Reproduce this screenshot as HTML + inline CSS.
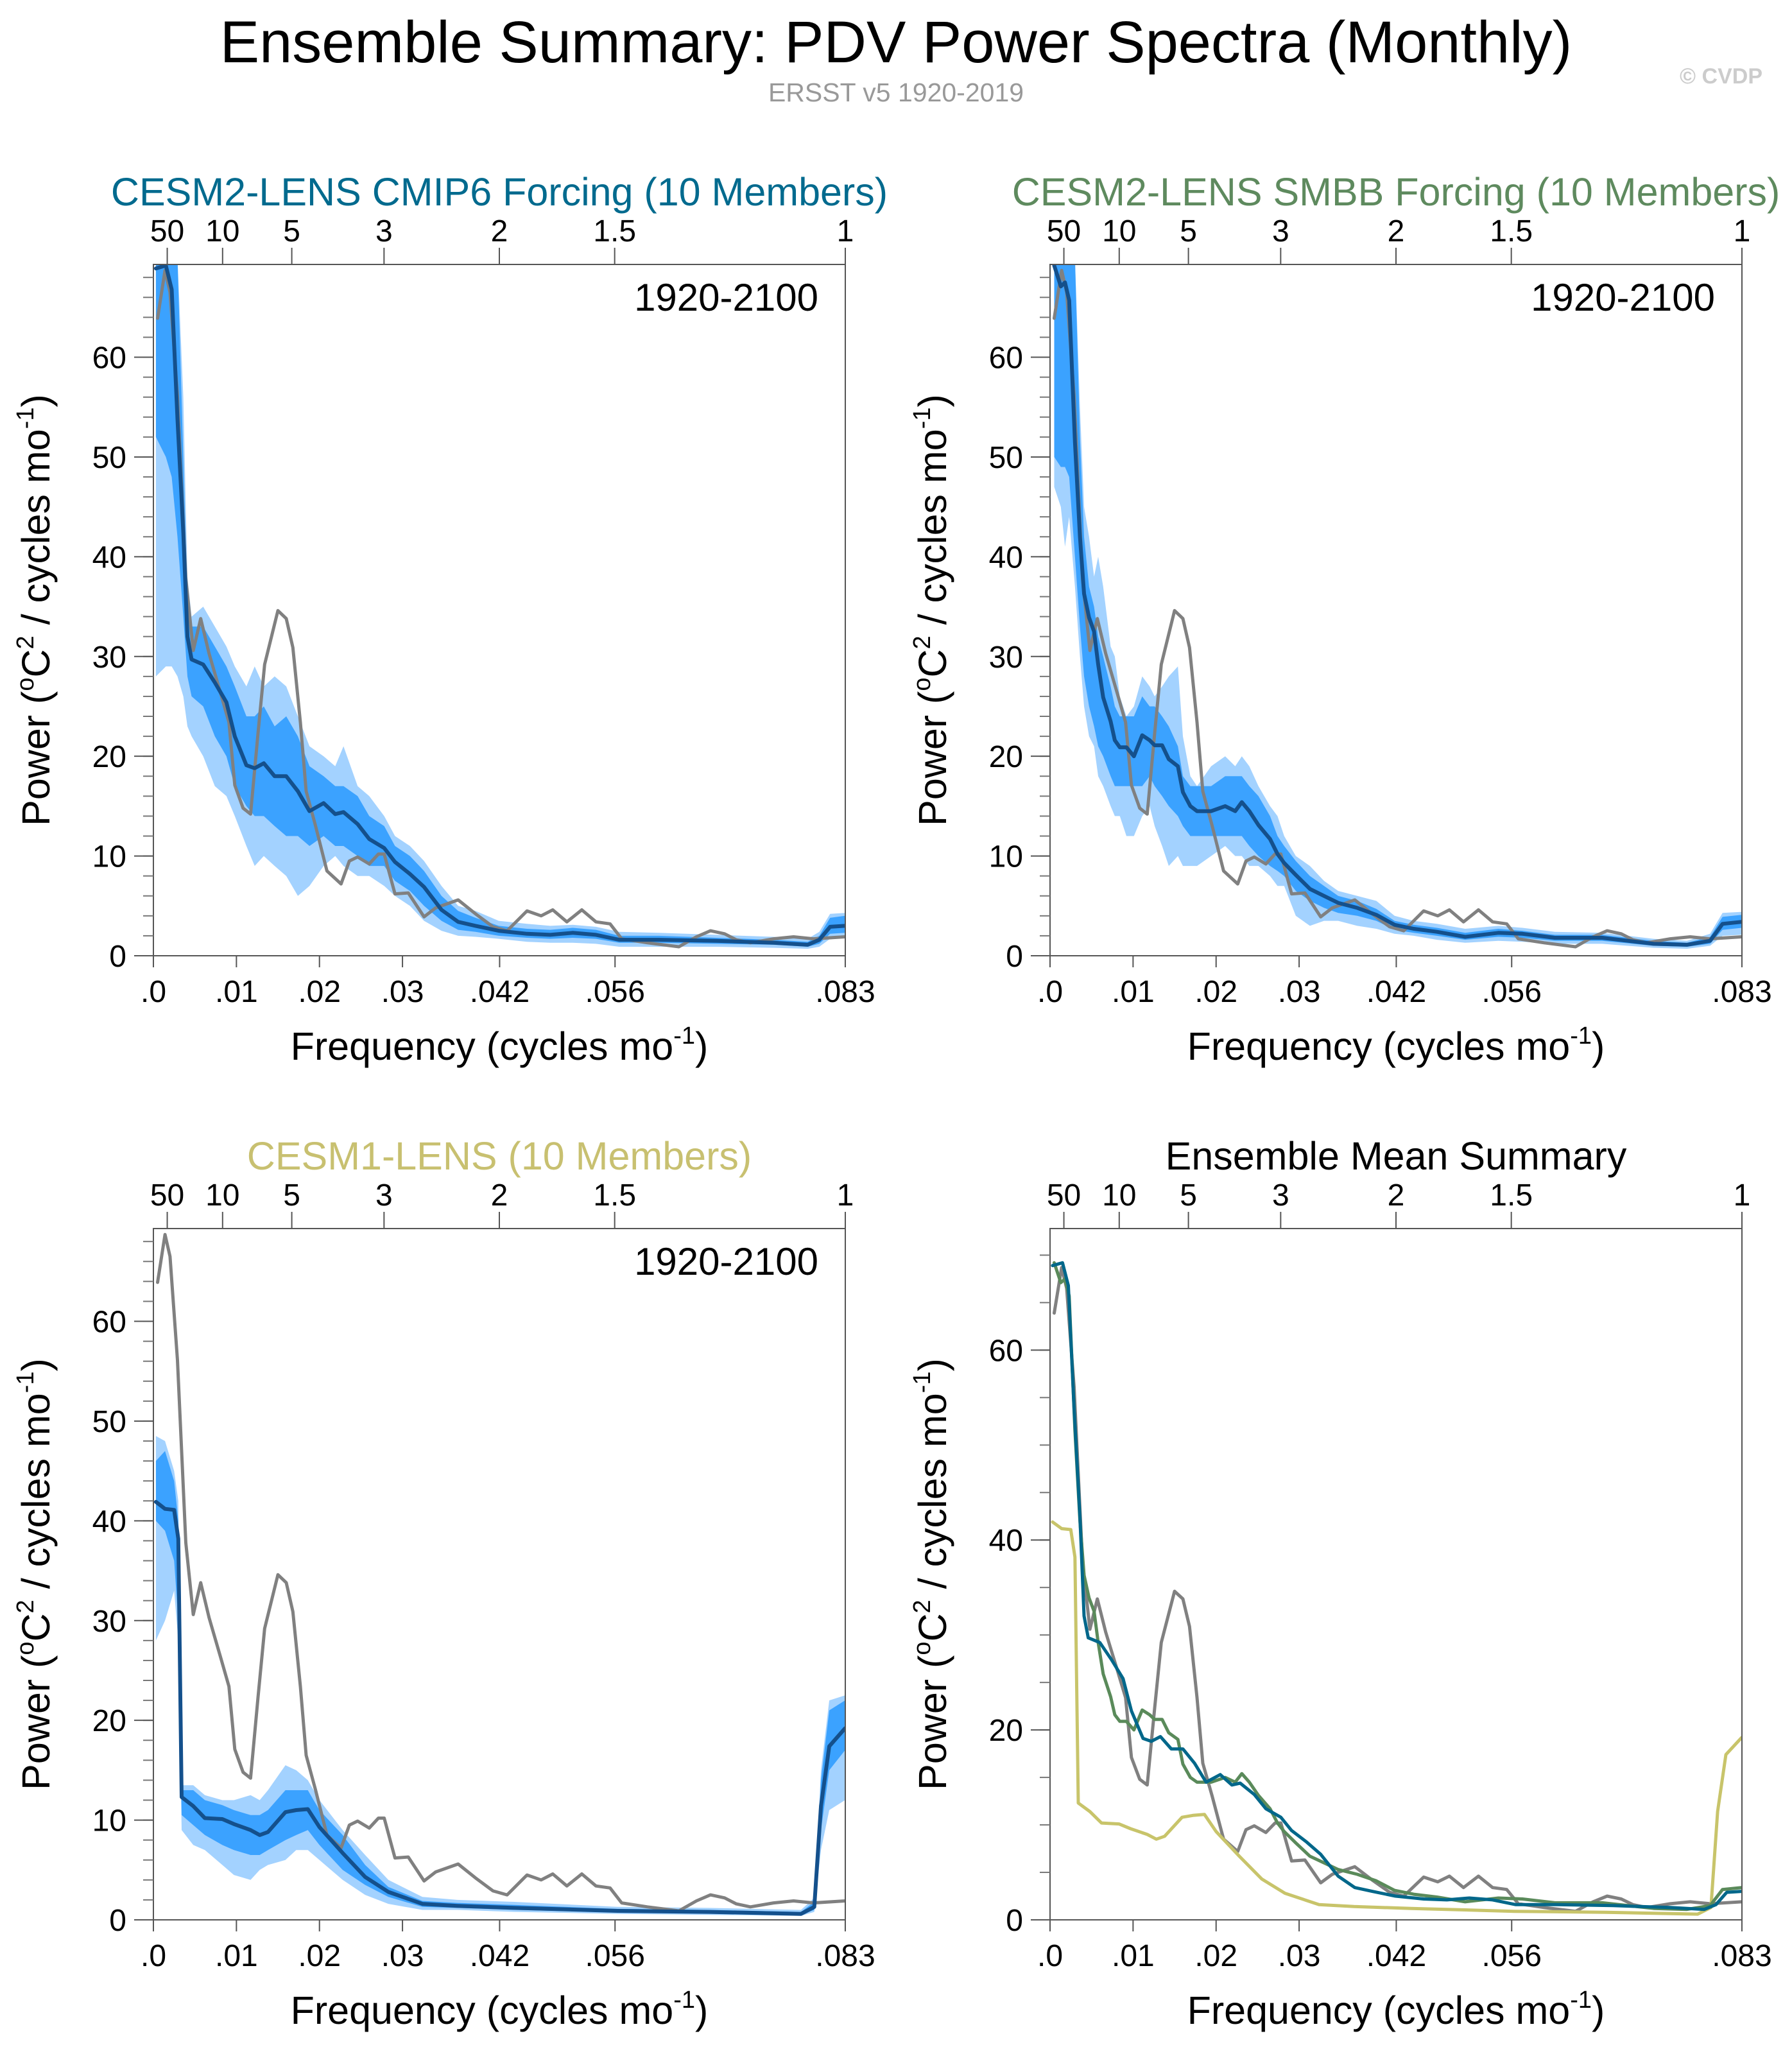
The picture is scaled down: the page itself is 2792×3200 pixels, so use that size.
<!DOCTYPE html>
<html><head><meta charset="utf-8">
<style>
html,body{margin:0;padding:0;background:#fff;}
svg{display:block;font-family:"Liberation Sans",Arial,sans-serif;}
</style></head>
<body>
<svg id="chart" width="2792" height="3200" viewBox="0 0 2792 3200" xmlns="http://www.w3.org/2000/svg">
<rect width="2792" height="3200" fill="#fff"/>
<text x="1396" y="97" font-size="92" text-anchor="middle" fill="#000">Ensemble Summary: PDV Power Spectra (Monthly)</text>
<text x="1396" y="158" font-size="41" text-anchor="middle" fill="#999">ERSST v5 1920-2019</text>
<text x="2746" y="130" font-size="34" text-anchor="end" fill="#ccc" font-weight="bold">© CVDP</text>
<g id="root"></g>
</svg>
<script>
// ---------- DATA ----------
const obsFreq = [.0005,.0014,.002,.0029,.0039,.0048,.0057,.0067,.0081,.0091,.0098,.0108,.0117,.0126,.0134,.015,.016,.0168,.0177,.0184,.0195,.0209,.0226,.0236,.0246,.026,.0271,.0278,.0291,.0307,.0326,.034,.0367,.0388,.0409,.0426,.045,.0467,.0481,.0498,.0516,.0533,.055,.0564,.0595,.0633,.0654,.0671,.0688,.0702,.0719,.0747,.0771,.0795,.0833];
const obsPower = [63.9,68.7,66.5,56.1,37.8,30.6,33.8,30.3,26.3,23.4,17.1,14.8,14.2,22.3,29.2,34.6,33.8,30.9,23.4,16.5,13.1,8.5,7.2,9.5,9.9,9.2,10.2,10.2,6.2,6.3,3.9,4.8,5.6,4.2,2.9,2.5,4.5,4.0,4.6,3.4,4.6,3.4,3.2,1.7,1.3,0.9,1.9,2.5,2.2,1.6,1.3,1.7,1.9,1.7,1.9];

const cmip6Freq = [.0003,.0015,.0022,.0029,.0036,.0041,.0046,.006,.0074,.0088,.0098,.0112,.0122,.0133,.0146,.016,.0174,.0188,.0205,.0219,.0229,.0246,.026,.0278,.0291,.0309,.0326,.0347,.0367,.0388,.0416,.045,.0478,.0505,.0533,.0561,.0609,.0678,.0747,.0788,.0802,.0815,.0833];
const cmip6Mean = [68.9,69.2,66.8,53.8,42.4,32.0,29.7,29.2,27.4,25.4,22.0,19.1,18.8,19.3,18.0,18.0,16.5,14.5,15.3,14.2,14.4,13.2,11.7,10.8,9.4,8.2,6.9,4.6,3.4,3.0,2.5,2.2,2.1,2.3,2.1,1.6,1.6,1.5,1.3,1.1,1.6,2.9,3.0];
const cmip6InnerLo = [52,50,48,42,34,28,26,25,22,20,17,15,14,14,13,12,12,11,12,11,11,10,9,9,7.5,6.5,5,3.5,2.6,2.4,2.0,1.8,1.7,1.8,1.7,1.3,1.3,1.2,1.1,0.9,1.2,2.2,2.3];
const cmip6InnerHi = [70,70,70,70,50,36,33,33,31,29,27,24,24,25,23,24,22,19,18,17,17,16,14,13,11,10,8.5,6,4.5,3.8,3.0,2.7,2.6,2.8,2.6,2.0,2.0,1.8,1.6,1.4,2.0,3.8,4.0];
const cmip6OuterLo = [28,29,29,28,26,23,22,20,17,16,14,11,9,10,9,8,6,7,9,10,9,8,8,7,6,5,3.5,2.5,2,1.9,1.7,1.4,1.3,1.3,1.2,0.9,0.9,0.9,0.8,0.7,0.9,1.7,1.8];
const cmip6OuterHi = [70,70,70,70,56,38,34,35,33,31,29,27,29,27,28,27,24,21,20,19,21,17,16,14,12,11,9.5,7,5,4.5,3.5,3.2,3.0,3.1,2.9,2.4,2.3,2.1,1.9,1.7,2.4,4.2,4.3];

const smbbFreq = [.0005,.0013,.0018,.0023,.003,.0036,.0041,.0047,.0053,.0058,.0064,.0073,.0078,.0084,.0092,.0101,.0111,.012,.0126,.0135,.0143,.0154,.016,.0169,.0177,.0194,.0211,.0223,.0231,.024,.0251,.0265,.0274,.0282,.0296,.0313,.033,.0347,.037,.0393,.0415,.0438,.0466,.05,.054,.0569,.0608,.0665,.0727,.0767,.0795,.081,.0833];
const smbbMean = [69.2,67.1,67.5,65.7,51.5,42,36.3,33.9,32.5,29.2,25.9,23.5,21.6,20.9,20.9,20,22.1,21.6,21.1,21.1,19.7,19,16.4,15,14.5,14.5,15,14.5,15.4,14.5,13.1,11.7,10.2,9.3,8.1,6.7,6,5.3,4.8,4.1,3.1,2.7,2.4,1.9,2.3,2.2,1.8,1.8,1.2,1.1,1.5,3.2,3.4];
const smbbInnerLo = [50,49,49,48,40,33,28,25,23,21,20,18,17,17,17,17,17,18,17,16,15,14,13,12,12,12,12,12,12,11,10,9,8.5,8,6.5,5.5,4.8,4.3,4,3.5,2.6,2.3,2,1.6,1.9,1.8,1.5,1.5,1,0.9,1.2,2.6,2.8];
const smbbInnerHi = [70,70,70,70,70,52,42,37,35,32,30,27,25,24,24,24,26,25,25,24,23,21,18,17,17,17,18,18,18,17,16,14,12,11,9.5,8,7,6,5.5,4.7,3.5,3.1,2.8,2.3,2.7,2.5,2.1,2.1,1.5,1.3,1.9,3.9,4.1];
const smbbOuterLo = [47,45,41,44,37,30,25,22,21,18,17,15,14,14,12,12,14,15,13,11,9,10,9,9,9,10,11,10,10,9,9,8,7,7,4,3,3.5,3.5,3,2.7,2.2,2,1.6,1.3,1.5,1.4,1.2,1.2,0.8,0.7,1,2,2.1];
const smbbOuterHi = [70,70,70,70,70,55,45,42,38,40,37,31,30,26,24,25,28,27,26,27,28,29,22,18,17,19,20,19,20,19,17,15,14,12,10,9,7.5,6.5,6,5.5,4,3.5,3.2,2.7,3,2.8,2.4,2.3,1.7,1.5,2.2,4.3,4.4];

const lens1Freq = [.0003,.0014,.0025,.003,.0034,.0048,.0062,.0083,.0097,.0117,.0128,.0138,.0159,.0172,.0186,.02,.0228,.0255,.0283,.0324,.0366,.0435,.0559,.0669,.078,.0796,.0804,.0814,.0833];
const lens1Mean = [41.9,41.2,41.1,38.2,12.3,11.4,10.2,10.1,9.6,9.0,8.5,8.8,10.8,11.0,11.1,9.3,6.7,4.3,2.8,1.6,1.4,1.2,0.9,0.8,0.6,1.3,11.4,17.4,19.2];
const lens1InnerLo = [40,39,36,30,10.5,9.5,8.5,7.5,7,6.5,6.5,7,8,8.5,9,7.5,5,3.5,2.3,1.3,1.2,1.0,0.75,0.65,0.5,1,9,15,17];
const lens1InnerHi = [46,47,44,40,13,13,12,11.5,11,10.5,10.5,11,13,13,13,11,8.5,5.5,3.3,1.9,1.7,1.5,1.1,1,0.8,1.8,14,21,22];
const lens1OuterLo = [28,30,33,28,9,7.5,7,5.5,4.5,4,5,5.5,6,7,7,6,4,2.5,1.6,1,1,0.8,0.6,0.5,0.4,0.8,7,11,12];
const lens1OuterHi = [48.5,48,45,42,13.5,13.5,12.5,12,12,12.5,12,13,15.5,15,14,12,9,6.5,4,2.3,2,1.8,1.3,1.2,1,2.2,15,22,22.5];

const bottomTickVals = [0,0.01,0.02,0.03,0.0417,0.0556,0.08333];
const bottomTickLabels = [".0",".01",".02",".03",".042",".056",".083"];
const topPeriods = [50,10,5,3,2,1.5,1];
const topLabels = ["50","10","5","3","2","1.5","1"];
const yTicksA = [0,10,20,30,40,50,60];
const yTicksB = [0,20,40,60];

// ---------- DRAWING ----------
const NS = "http://www.w3.org/2000/svg";
const root = document.getElementById('root');
const XMAX = 1/12;
function mk(tag, attrs, parent){ const e=document.createElementNS(NS,tag); for(const k in attrs) e.setAttribute(k,attrs[k]); (parent||root).appendChild(e); return e; }

function panel(cfg){
  const g = mk('g',{});
  
  
  const x0=cfg.x0, y0=cfg.y0, w=cfg.w, h=cfg.h, ymax=cfg.ymax;
  const sx = f => x0 + f/XMAX*w;
  const sy = v => y0 + h - v/ymax*h;
  const cid = 'clip-'+cfg.name;
  const cp = mk('clipPath',{id:cid}, g); mk('rect',{x:x0,y:y0,width:w,height:h},cp);
  const plot = mk('g',{'clip-path':'url(#'+cid+')'}, g);
  function band(fr, lo, hi, color, nm){
    let d='M'+fr.map((f,i)=>sx(f).toFixed(1)+','+sy(hi[i]).toFixed(1)).join('L');
    for(let i=fr.length-1;i>=0;i--) d+='L'+sx(fr[i]).toFixed(1)+','+sy(lo[i]).toFixed(1);
    const p = mk('path',{d:d+'Z',fill:color,stroke:'none'},plot);
    
    
  }
  function line(fr, vals, color, width, nm){
    const d='M'+fr.map((f,i)=>sx(f).toFixed(1)+','+sy(vals[i]).toFixed(1)).join('L');
    const p = mk('path',{d:d,fill:'none',stroke:color,'stroke-width':width,'stroke-linejoin':'round','stroke-linecap':'round'},plot);
    
    
  }
  (cfg.bands||[]).forEach(b=>band(b[0],b[1],b[2],b[3],b[4]));
  (cfg.lines||[]).forEach(l=>line(l[0],l[1],l[2],l[3],l[4]));
  const fr = mk('rect',{x:x0,y:y0,width:w,height:h,fill:'none',stroke:'#555','stroke-width':2},g);
  
  
  for(let v=0; v<=ymax; v+=cfg.minor){ mk('line',{x1:x0-16,x2:x0,y1:sy(v),y2:sy(v),stroke:'#777','stroke-width':2},g); }
  cfg.yticks.forEach(v=>{
    mk('line',{x1:x0-30,x2:x0,y1:sy(v),y2:sy(v),stroke:'#555','stroke-width':2},g);
    const t=mk('text',{x:x0-42,y:sy(v)+17,'font-size':48,'text-anchor':'end',fill:'#000'},g); t.textContent=v;
    
    
  });
  bottomTickVals.forEach((f,i)=>{
    mk('line',{x1:sx(f),x2:sx(f),y1:y0+h,y2:y0+h+18,stroke:'#555','stroke-width':2},g);
    const t=mk('text',{x:sx(f),y:y0+h+72,'font-size':48,'text-anchor':'middle',fill:'#000'},g); t.textContent=bottomTickLabels[i];
    
    
  });
  topPeriods.forEach((p,i)=>{
    const f=1/(12*p);
    mk('line',{x1:sx(f),x2:sx(f),y1:y0,y2:y0-26,stroke:'#555','stroke-width':2},g);
    const t=mk('text',{x:sx(f),y:y0-36,'font-size':48,'text-anchor':'middle',fill:'#000'},g); t.textContent=topLabels[i];
    
    
  });
  const tt=mk('text',{x:x0+w/2,y:y0-92,'font-size':61,'text-anchor':'middle',fill:cfg.titleColor},g); tt.textContent=cfg.title;
  
  
  if(cfg.period){
    const pt=mk('text',{x:x0+w-42,y:y0+72,'font-size':60,'text-anchor':'end',fill:'#000'},g); pt.textContent='1920-2100';
    
    
  }
  const xt=mk('text',{x:x0+w/2,y:y0+h+162,'font-size':61,'text-anchor':'middle',fill:'#000'},g);
  xt.innerHTML='Frequency (cycles mo<tspan font-size="38" dy="-25">-1</tspan><tspan dy="25">)</tspan>';
  
  
  const cx=x0-162, cy=y0+h/2;
  const yt=mk('text',{x:cx,y:cy,'font-size':61,'text-anchor':'middle',fill:'#000',transform:'rotate(-90 '+cx+' '+cy+')'},g);
  yt.innerHTML='Power (<tspan font-size="38" dy="-25">o</tspan><tspan dy="25">C</tspan><tspan font-size="38" dy="-25">2</tspan><tspan dy="25"> / cycles mo</tspan><tspan font-size="38" dy="-25">-1</tspan><tspan dy="25">)</tspan>';
  
  
}

const LB='#a3d2ff', DB='#3ba2ff', MB='#14508c', GR='#808080';
panel({name:'panel-cesm2-cmip6',x0:239,y0:412,w:1078,h:1077,ymax:69.3,yticks:yTicksA,minor:2,period:true,
  title:'CESM2-LENS CMIP6 Forcing (10 Members)',titleColor:'#006a8e',
  bands:[[cmip6Freq,cmip6OuterLo,cmip6OuterHi,LB,'outer-spread-band'],[cmip6Freq,cmip6InnerLo,cmip6InnerHi,DB,'inner-spread-band']],
  lines:[[obsFreq,obsPower,GR,5,'obs-line'],[cmip6Freq,cmip6Mean,MB,6,'ensemble-mean-line']]});
panel({name:'panel-cesm2-smbb',x0:1636,y0:412,w:1078,h:1077,ymax:69.3,yticks:yTicksA,minor:2,period:true,
  title:'CESM2-LENS SMBB Forcing (10 Members)',titleColor:'#5e8a5e',
  bands:[[smbbFreq,smbbOuterLo,smbbOuterHi,LB,'outer-spread-band'],[smbbFreq,smbbInnerLo,smbbInnerHi,DB,'inner-spread-band']],
  lines:[[obsFreq,obsPower,GR,5,'obs-line'],[smbbFreq,smbbMean,MB,6,'ensemble-mean-line']]});
panel({name:'panel-cesm1',x0:239,y0:1914,w:1078,h:1077,ymax:69.3,yticks:yTicksA,minor:2,period:true,
  title:'CESM1-LENS (10 Members)',titleColor:'#c8c070',
  bands:[[lens1Freq,lens1OuterLo,lens1OuterHi,LB,'outer-spread-band'],[lens1Freq,lens1InnerLo,lens1InnerHi,DB,'inner-spread-band']],
  lines:[[obsFreq,obsPower,GR,5,'obs-line'],[lens1Freq,lens1Mean,MB,6,'ensemble-mean-line']]});
panel({name:'panel-ensemble-mean-summary',x0:1636,y0:1914,w:1078,h:1077,ymax:72.8,yticks:yTicksB,minor:5,period:false,
  title:'Ensemble Mean Summary',titleColor:'#000',
  bands:[],
  lines:[[obsFreq,obsPower,GR,5,'obs-line'],[lens1Freq,lens1Mean,'#c8c46a',5,'cesm1-mean-line'],[smbbFreq,smbbMean,'#5a8a5a',5,'smbb-mean-line'],[cmip6Freq,cmip6Mean,'#00678a',5,'cmip6-mean-line']]});
</script>
</body></html>
